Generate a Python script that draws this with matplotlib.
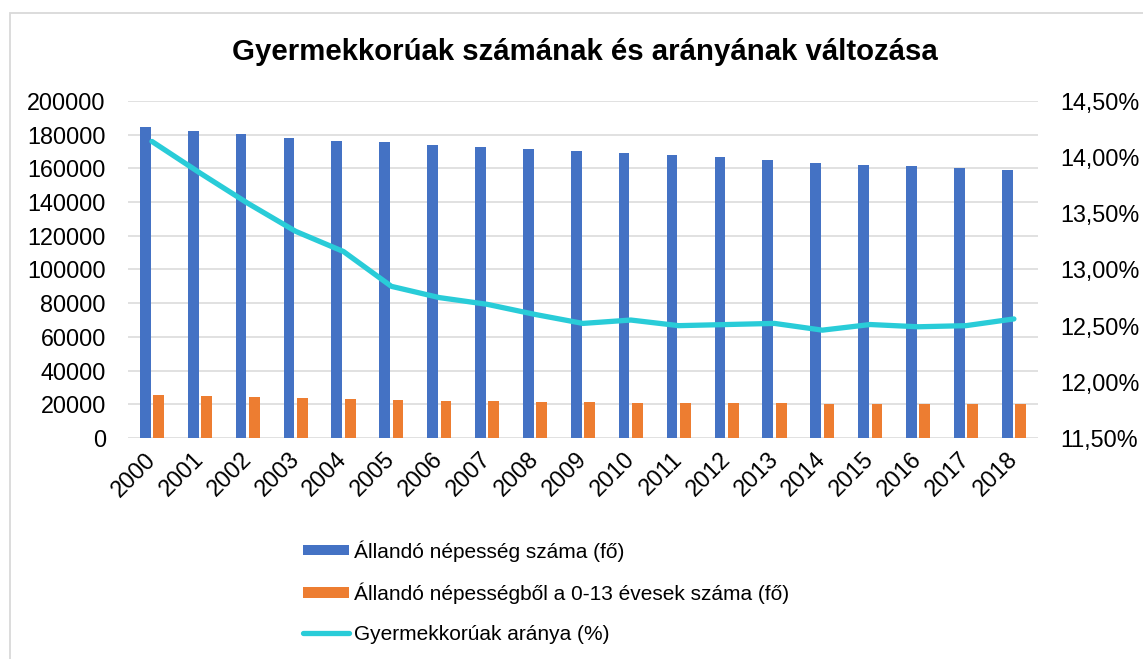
import matplotlib.pyplot as plt
from matplotlib.patches import Rectangle
from matplotlib.ticker import FuncFormatter, MultipleLocator
import numpy as np

plt.rcParams['font.family'] = ['Liberation Sans', 'DejaVu Sans']

years = [str(y) for y in range(2000, 2019)]
population = [184600, 182300, 180500, 177900, 176200, 175700, 174000, 172800,
              171600, 170400, 169100, 167900, 166500, 165100, 163300, 162100,
              161400, 160400, 159200]
children = [25800, 25100, 24500, 23500, 22900, 22300, 21900, 21750, 21350,
            21200, 21000, 20750, 20600, 20550, 20400, 20050, 19950, 19950,
            19950]
child_ratio = [14.14, 13.86, 13.59, 13.34, 13.16, 12.85, 12.75, 12.69, 12.60,
               12.52, 12.55, 12.50, 12.51, 12.52, 12.46, 12.51, 12.49, 12.50,
               12.56]

blue = '#4472C4'
orange = '#ED7D31'
cyan = '#29CCD8'
grid = '#D9D9D9'

fig = plt.figure(figsize=(11.43, 6.59), dpi=100)
ax = fig.add_axes([0.112, 0.3354, 0.796, 0.5113])
ax2 = ax.twinx()

x = np.arange(len(years))
w = 0.224
ax.bar(x - 0.14, population, width=w, color=blue, zorder=2,
       label='Állandó népesség száma (fő)')
ax.bar(x + 0.14, children, width=w, color=orange, zorder=2,
       label='Állandó népességből a 0-13 évesek száma (fő)')
ax2.plot(x, child_ratio, color=cyan, lw=3.8, solid_capstyle='round',
         solid_joinstyle='round', label='Gyermekkorúak aránya (%)')

ax.set_xlim(-0.5, len(years) - 0.5)
ax.set_ylim(0, 200000)
ax.yaxis.set_major_locator(MultipleLocator(20000))
ax.grid(axis='y', color=grid, lw=1.1, zorder=0)
ax.set_axisbelow(True)
ax.set_xticks(x)
ax.set_xticklabels(years, rotation=45, ha='right', va='center',
                   rotation_mode='anchor')

ax2.set_ylim(11.5, 14.5)
ax2.yaxis.set_major_locator(MultipleLocator(0.5))
ax2.yaxis.set_major_formatter(
    FuncFormatter(lambda v, p: f'{v:.2f}%'.replace('.', ',')))

for a in (ax, ax2):
    for s in a.spines.values():
        s.set_visible(False)
    a.tick_params(length=0, labelsize=16.8, colors='#000000')
ax.tick_params(axis='y', pad=16)
ax2.tick_params(axis='y', pad=16)
ax.tick_params(axis='x', pad=13)

fig.text(0.512, 0.921, 'Gyermekkorúak számának és arányának változása',
         ha='center', va='center', fontsize=21.2, fontweight='bold')

# chart frame
fig.patches.append(Rectangle((10 / 1143, -0.05), 1.2, 1 - 13 / 659 + 0.05,
                             transform=fig.transFigure, fill=False,
                             ec=grid, lw=1.3))

h1, l1 = ax.get_legend_handles_labels()
h2, l2 = ax2.get_legend_handles_labels()
fig.legend(h1 + h2, l1 + l2, loc='upper left',
           bbox_to_anchor=(303 / 1143, 1 - 540 / 659), frameon=False,
           fontsize=15, handlelength=2.2, handleheight=0.4,
           handletextpad=0.25, labelspacing=1.0, borderpad=0,
           borderaxespad=0)

fig.savefig('out.png', dpi=100)
